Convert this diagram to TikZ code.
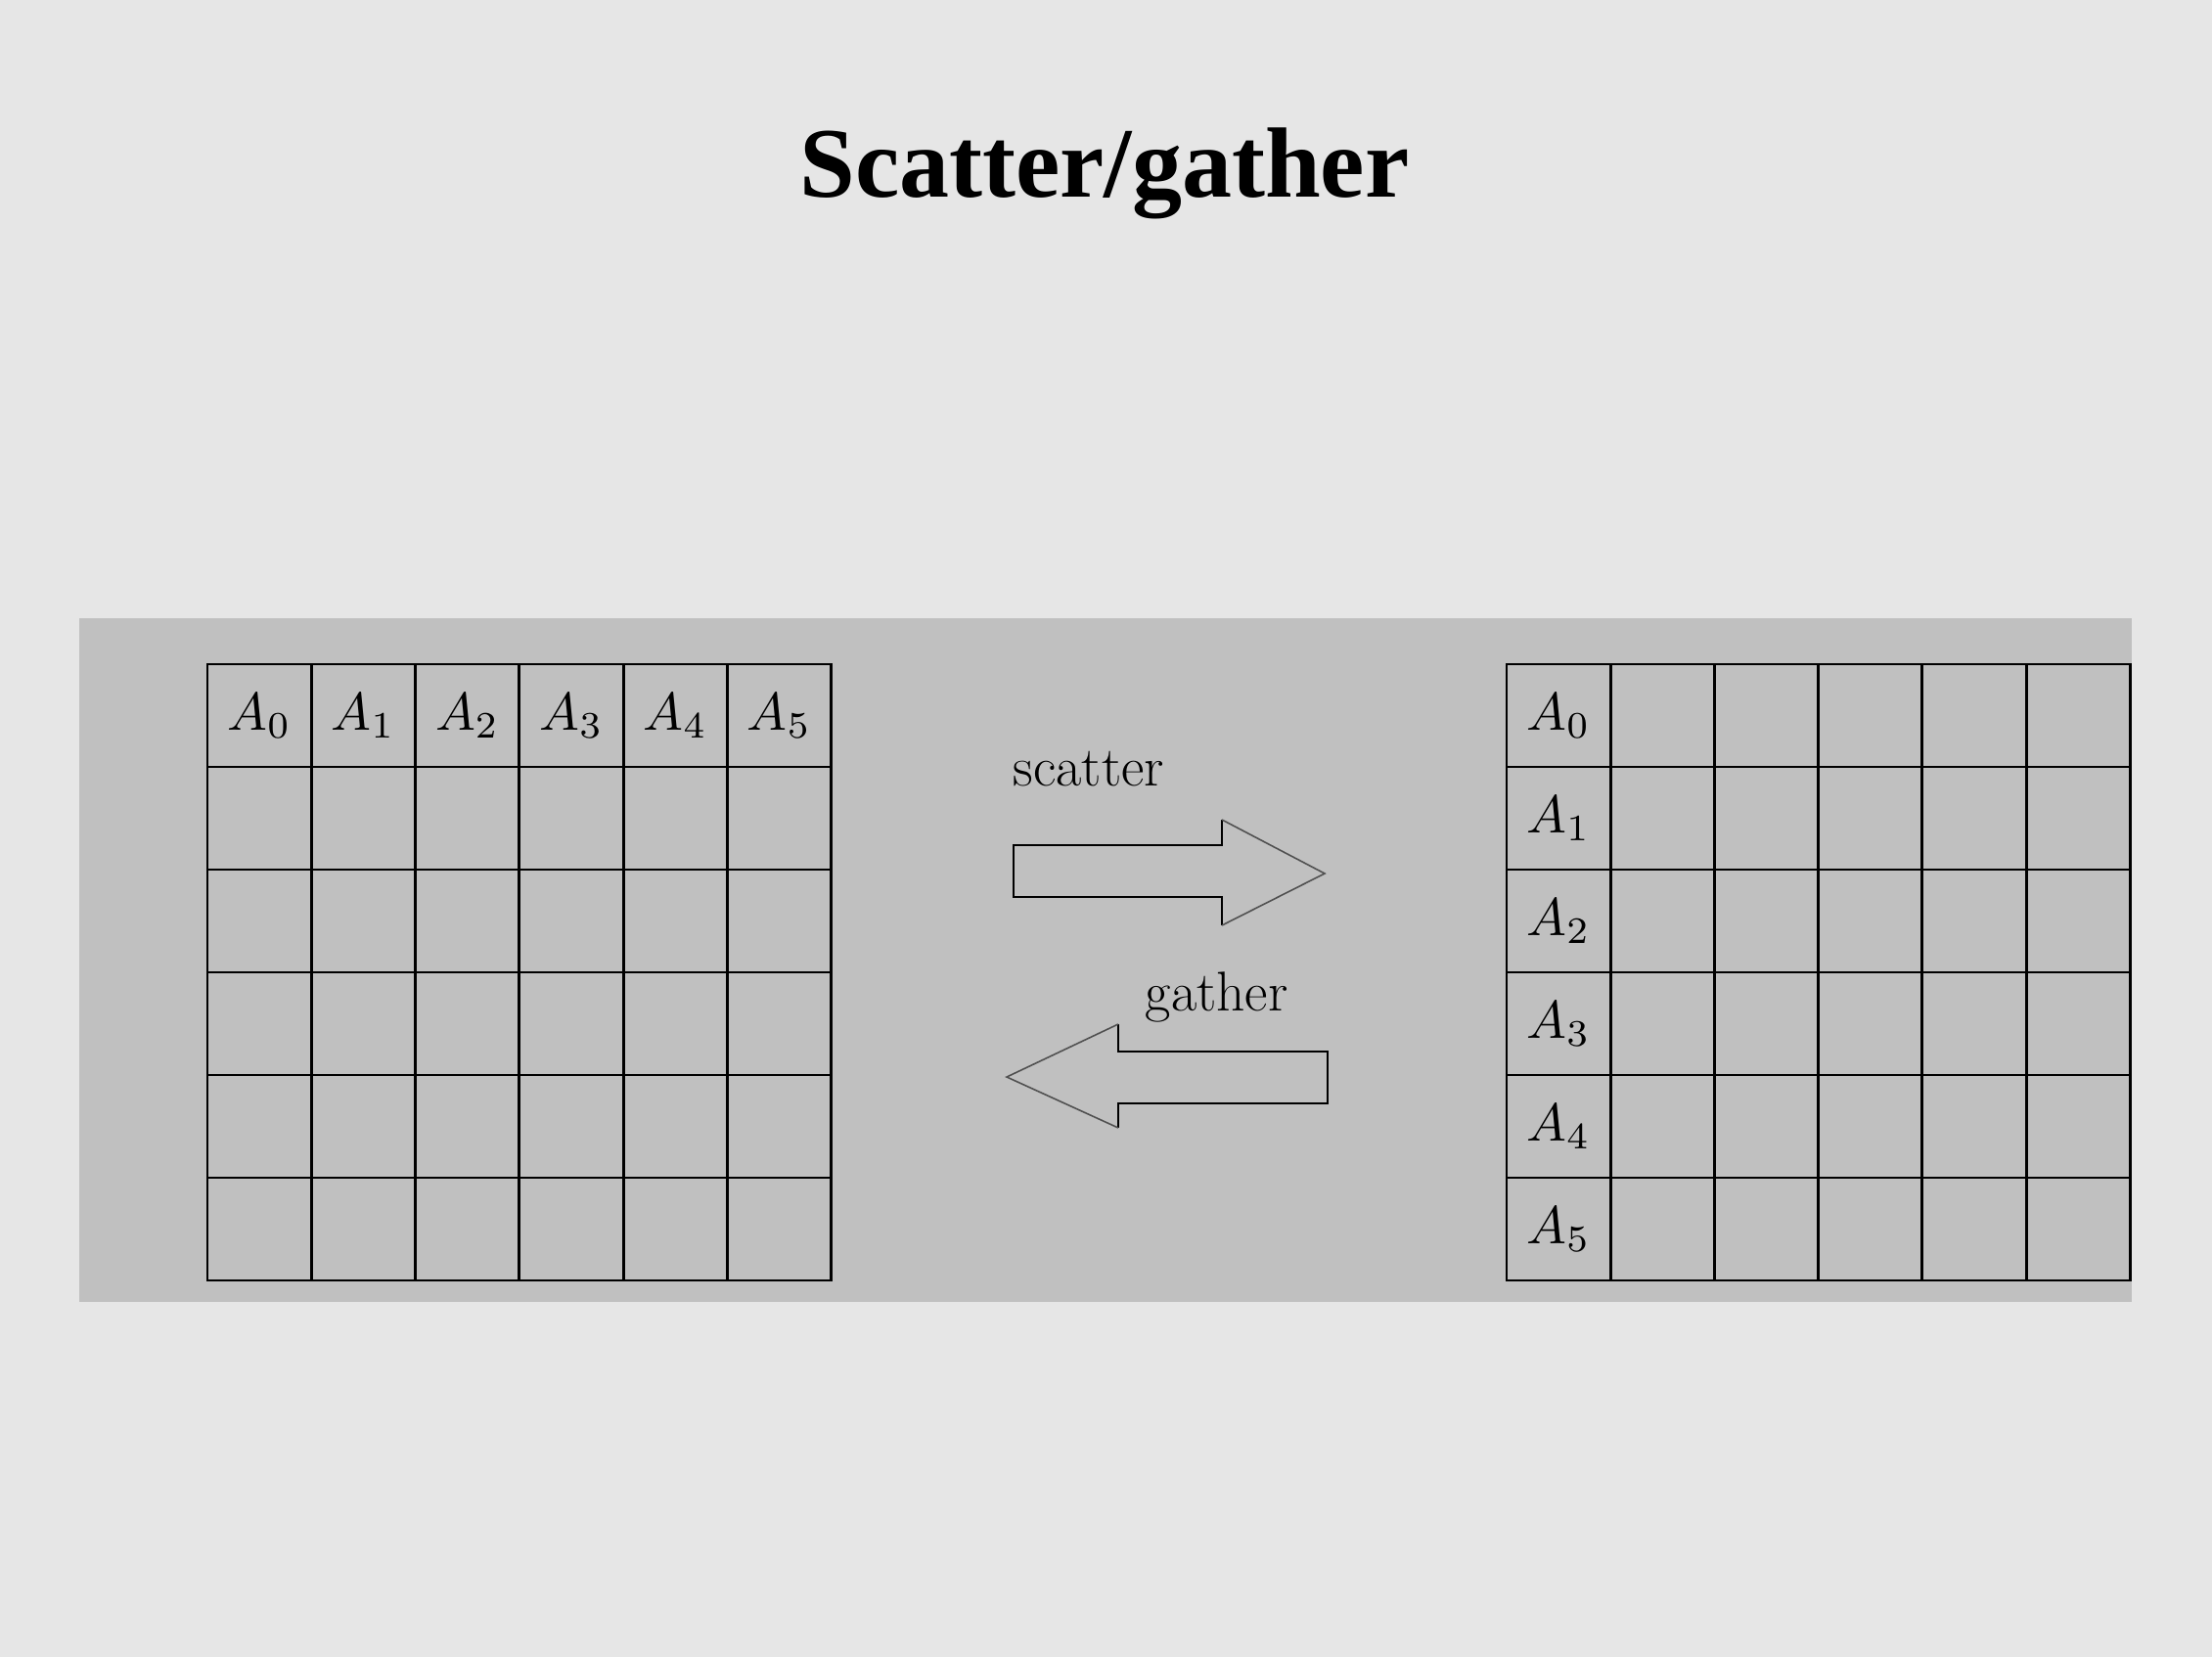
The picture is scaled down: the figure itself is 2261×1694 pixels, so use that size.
\documentclass[tikz,border=0pt]{standalone}
\usepackage{fontspec}
\usepackage{tikz}
\usetikzlibrary{positioning}
\newfontfamily\titlefont{Liberation Serif}
\definecolor{slidebg}{RGB}{230, 230, 230}
\definecolor{panelgray}{RGB}{192, 192, 192}
\definecolor{headedge}{RGB}{80, 80, 80}
\newcommand{\celllabel}[1]{\scalebox{1.55}{$A_{#1}$}}

\begin{document}
\begin{tikzpicture}[x=0.01cm, y=-0.01cm,
    cell/.style={draw, line width=0.8pt, minimum width=1.063cm, minimum height=1.05cm, inner sep=0pt},
    celltext/.style={inner sep=0pt},
    arrowlbl/.style={inner sep=0pt, font=\fontsize{16.3}{19}\selectfont}]
        % 背景
        \fill[slidebg] (0, 0) rectangle (2261, 1694);
        \fill[panelgray] (81, 632) rectangle (2179, 1331);

        % 标题
        \node[anchor=base, inner sep=0pt, font=\titlefont\bfseries\fontsize{29}{35}\selectfont] (title) at (1129, 202) {Scatter/gather};

        % 两个 6x6 网格
        \foreach \r in {0,...,5}
            \foreach \c in {0,...,5} {
                \node[cell] (src-\r-\c) at ({212+106.3*(\c+0.5)}, {679+105*(\r+0.5)}) {};
                \node[cell] (dst-\r-\c) at ({1540+106.2*(\c+0.5)}, {679+105*(\r+0.5)}) {};
            }

        % A_i: 左边第一行, 右边第一列
        \foreach \i in {0,...,5} {
            \node[celltext] (srclbl-\i) at (src-0-\i) {\celllabel{\i}};
            \node[celltext] (dstlbl-\i) at (dst-\i-0) {\celllabel{\i}};
        }

        % scatter 箭头
        \draw[line width=0.8pt] (1249, 838) -- (1249, 864) -- (1036, 864) -- (1036, 917) -- (1249, 917) -- (1249, 946);
        \draw[headedge, line width=0.45pt] (1249, 838) -- (1354, 893) -- (1249, 946);
        \node[arrowlbl, anchor=base west] (scatterlbl) at (1035, 803) {scatter};

        % gather 箭头
        \draw[line width=0.8pt] (1143, 1047) -- (1143, 1075) -- (1357, 1075) -- (1357, 1128) -- (1143, 1128) -- (1143, 1153);
        \draw[headedge, line width=0.45pt] (1143, 1047) -- (1029, 1101) -- (1143, 1153);
        \node[arrowlbl, anchor=base west] (gatherlbl) at (1170, 1033) {gather};
\end{tikzpicture}
\end{document}
